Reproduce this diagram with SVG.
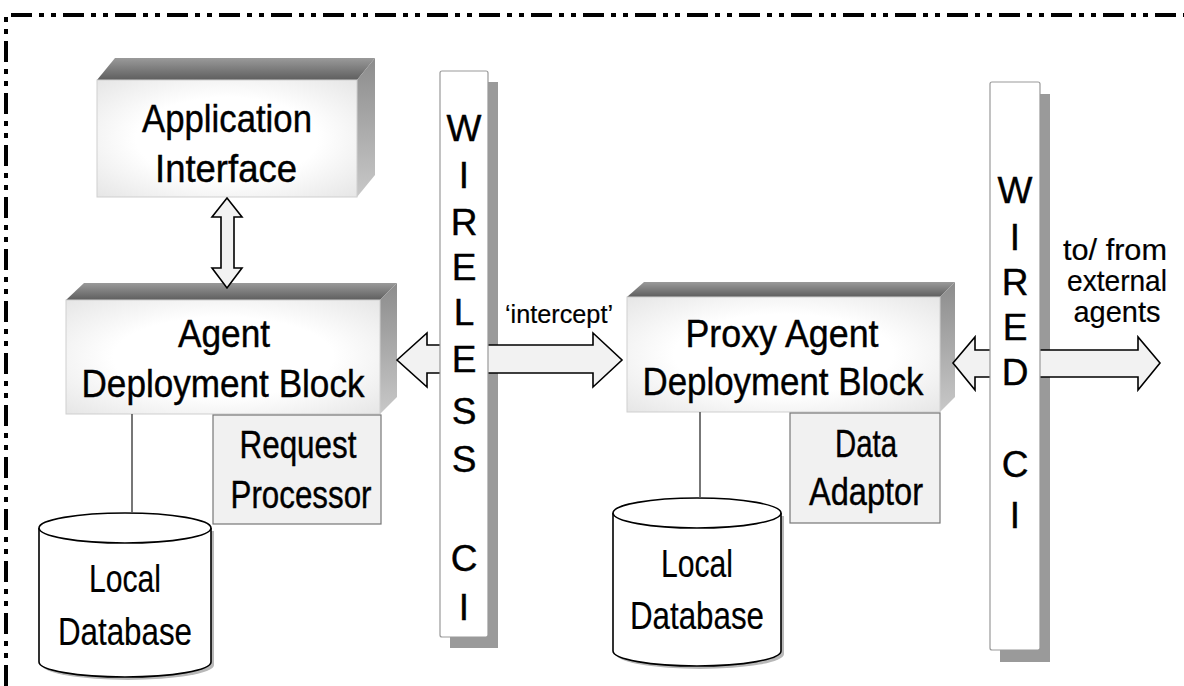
<svg xmlns="http://www.w3.org/2000/svg" width="1184" height="686" viewBox="0 0 1184 686">
<defs>
<linearGradient id="topG" x1="0" y1="0" x2="0" y2="1"><stop offset="0" stop-color="#9a9a9a"/><stop offset="1" stop-color="#5e5e5e"/></linearGradient>
<linearGradient id="sideG" x1="0" y1="0" x2="0" y2="1"><stop offset="0" stop-color="#8c8c8c"/><stop offset="1" stop-color="#c8c8c8"/></linearGradient>
<radialGradient id="frontG" cx="0.5" cy="0.5" r="0.7"><stop offset="0.5" stop-color="#ffffff"/><stop offset="1" stop-color="#e6e6e6"/></radialGradient>
<style>
.t{font-family:"Liberation Sans",Arial,sans-serif;fill:#000;text-anchor:middle;stroke:#000;stroke-width:0.4}
.blk{font-size:38px}
.sm{font-size:26px;stroke-width:0.2}
.lb{font-size:29px;stroke-width:0.2}
.ltr{font-size:37px}
.front{fill:url(#frontG);stroke:#cfcfcf;stroke-width:1}
.top{fill:url(#topG)}
.side{fill:url(#sideG)}
.box{fill:#f1f1f1;stroke:#777;stroke-width:1.2}
.bar{fill:#fff;stroke:#999;stroke-width:1.2}
.shadow{fill:#9a9a9a}
.arrow{fill:#f2f2f2;stroke:#000;stroke-width:1.6;stroke-linejoin:miter}
.db{fill:#fff;stroke:#000;stroke-width:1.6}
.link{stroke:#555;stroke-width:1.6;fill:none}
</style>
</defs>
<rect width="1184" height="686" fill="#fff"/>
<path d="M6,686 L6,15 L1184,15" fill="none" stroke="#000" stroke-width="4" stroke-dasharray="21 7 5 7 5 7"/>

<g id="app-interface">
<polygon class="top" points="97,80 115,58 375,58 357,80"/>
<polygon class="side" points="357,80 375,58 375,175 357,197"/>
<rect class="front" x="97" y="80" width="260" height="117"/>
<text class="t blk" x="227" y="132" textLength="170" lengthAdjust="spacingAndGlyphs">Application</text>
<text class="t blk" x="226" y="182" textLength="142" lengthAdjust="spacingAndGlyphs">Interface</text>
</g>

<g id="agent-block">
<polygon class="top" points="66,300 84,283 397,283 380,300"/>
<polygon class="side" points="380,300 397,283 397,397 380,414"/>
<rect class="front" x="66" y="300" width="314" height="114"/>
<text class="t blk" x="224" y="347" textLength="92" lengthAdjust="spacingAndGlyphs">Agent</text>
<text class="t blk" x="223" y="397" textLength="283" lengthAdjust="spacingAndGlyphs">Deployment Block</text>
</g>

<g id="request-processor">
<rect class="box" x="213" y="415" width="168" height="109"/>
<text class="t blk" x="298" y="458" textLength="117" lengthAdjust="spacingAndGlyphs">Request</text>
<text class="t blk" x="301" y="508" textLength="141" lengthAdjust="spacingAndGlyphs">Processor</text>
</g>

<g id="local-db-left">
<path d="M42,531 L42,665 A86,15 0 0,0 214,665 L214,531" fill="#b8b8b8"/>
<path class="db" d="M39,528 A86,15 0 0,1 211,528 L211,662 A86,15 0 0,1 39,662 Z"/>
<path class="db" d="M39,528 A86,15 0 0,0 211,528" fill="none"/>
<text class="t blk" x="125" y="592" textLength="72" lengthAdjust="spacingAndGlyphs" style="stroke-width:0.2">Local</text>
<text class="t blk" x="125" y="645" textLength="134" lengthAdjust="spacingAndGlyphs" style="stroke-width:0.2">Database</text>
</g>

<g id="proxy-block">
<polygon class="top" points="627,297 644,282 955,282 940,297"/>
<polygon class="side" points="940,297 955,282 955,397 940,412"/>
<rect class="front" x="627" y="297" width="313" height="115"/>
<text class="t blk" x="782" y="347" textLength="193" lengthAdjust="spacingAndGlyphs">Proxy Agent</text>
<text class="t blk" x="783" y="395" textLength="281" lengthAdjust="spacingAndGlyphs">Deployment Block</text>
</g>

<g id="data-adaptor">
<rect class="box" x="790" y="413" width="150" height="110"/>
<text class="t blk" x="866" y="457" textLength="62" lengthAdjust="spacingAndGlyphs">Data</text>
<text class="t blk" x="866" y="505" textLength="114" lengthAdjust="spacingAndGlyphs">Adaptor</text>
</g>

<g id="local-db-right">
<path d="M616,516 L616,654 A84,15 0 0,0 784,654 L784,516" fill="#b8b8b8"/>
<path class="db" d="M613,513 A84,15 0 0,1 781,513 L781,651 A84,15 0 0,1 613,651 Z"/>
<path class="db" d="M613,513 A84,15 0 0,0 781,513" fill="none"/>
<text class="t blk" x="697" y="577" textLength="72" lengthAdjust="spacingAndGlyphs" style="stroke-width:0.2">Local</text>
<text class="t blk" x="697" y="629" textLength="134" lengthAdjust="spacingAndGlyphs" style="stroke-width:0.2">Database</text>
</g>

<g id="connectors">
<line class="link" x1="132" y1="414" x2="132" y2="513"/>
<line class="link" x1="700" y1="412" x2="700" y2="498"/>
<polygon class="arrow" points="227,198 242,217 234,217 234,268 242,268 227,288 212,268 221,268 221,217 212,217"/>
<rect class="shadow" x="450" y="82" width="48" height="566"/>
<polygon class="arrow" points="397,360 427,333 427,345 593,345 593,333 622,360 593,387 593,373 427,373 427,387"/>
<rect class="shadow" x="1000" y="94" width="50" height="568"/>
<polygon class="arrow" points="953,363 975,337 975,350 1138,350 1138,337 1160,363 1138,390 1138,377 975,377 975,390"/>
<text class="t sm" x="559" y="323" textLength="108" lengthAdjust="spacingAndGlyphs">‘intercept’</text>
<text class="t lb" x="1115" y="260" textLength="104" lengthAdjust="spacingAndGlyphs">to/ from</text>
<text class="t lb" x="1117" y="291" textLength="100" lengthAdjust="spacingAndGlyphs">external</text>
<text class="t lb" x="1117" y="322" textLength="87" lengthAdjust="spacingAndGlyphs">agents</text>
</g>

<g id="wireless-ci">
<rect class="bar" x="440" y="71" width="48" height="566" rx="2"/>
<text class="t ltr" x="464" y="141">W</text>
<text class="t ltr" x="464" y="188">I</text>
<text class="t ltr" x="464" y="235">R</text>
<text class="t ltr" x="464" y="280">E</text>
<text class="t ltr" x="464" y="325">L</text>
<text class="t ltr" x="464" y="372">E</text>
<text class="t ltr" x="464" y="424">S</text>
<text class="t ltr" x="464" y="472">S</text>
<text class="t ltr" x="464" y="571">C</text>
<text class="t ltr" x="464" y="620">I</text>
</g>

<g id="wired-ci">
<rect class="bar" x="990" y="82" width="50" height="568" rx="2"/>
<text class="t ltr" x="1015" y="203">W</text>
<text class="t ltr" x="1015" y="250">I</text>
<text class="t ltr" x="1015" y="295">R</text>
<text class="t ltr" x="1015" y="340">E</text>
<text class="t ltr" x="1015" y="385">D</text>
<text class="t ltr" x="1015" y="477">C</text>
<text class="t ltr" x="1015" y="528">I</text>
</g>
</svg>
